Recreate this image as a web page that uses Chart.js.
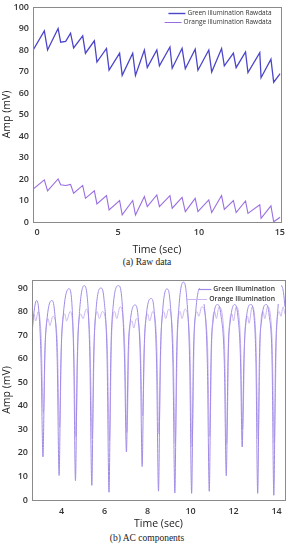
<!DOCTYPE html>
<html>
<head>
<meta charset="utf-8">
<script src="https://cdn.jsdelivr.net/npm/chart.js@4.4.0/dist/chart.umd.min.js"></script>
<style>
  body { margin: 0; width: 290px; height: 550px; background: #fff; position: relative; overflow: hidden; }
  canvas { position: absolute; left: 0; }
  #rawChart { top: 0; }
  #acChart { top: 276px; }
  .cap { position: absolute; left: 2px; width: 290px; text-align: center; font: 9.5px "Liberation Serif", serif; color: #222; }
</style>
</head>
<body>
<canvas id="rawChart" width="290" height="256"></canvas>
<div class="cap" style="top:257px">(a) Raw data</div>
<canvas id="acChart" width="290" height="254"></canvas>
<div class="cap" style="top:533px">(b) AC components</div>
<script>
// (a) raw data - peaks / troughs
const rawTime = [-0.24, 0.45, 0.65, 1.30, 1.46, 1.77, 2.07, 2.26, 2.82, 2.99, 3.54, 3.70, 4.29, 4.45, 5.10, 5.26, 5.91, 6.08, 6.63, 6.81,
  7.40, 7.56, 8.21, 8.35, 8.96, 9.16, 9.77, 9.94, 10.61, 10.79, 11.40, 11.57, 12.13, 12.30, 12.88, 13.03, 13.76, 13.84, 14.45, 14.62, 15.02];
const rawGreen = [80, 88.9, 80, 90, 83.6, 84, 87.8, 81, 86.6, 78.5, 84.3, 74.4, 80.7, 70.7, 78.5, 68.2, 78.5, 68.2, 80, 71.8,
  80, 72.6, 81.4, 71.5, 80.8, 71.3, 80.4, 70.6, 80, 69.8, 80.7, 72.6, 78.5, 71.8, 79.1, 69.5, 78.8, 67.1, 75.7, 65, 69];
const rawOrange = [15.3, 19.6, 14.5, 20, 17.3, 17, 17.5, 13.4, 17, 11, 14.5, 8.4, 12.3, 5.6, 10, 3.3, 10, 3.3, 11.8, 7.2,
  12.6, 7.2, 12.3, 6.4, 11.4, 4.8, 11, 4.8, 10.3, 4.4, 12.3, 5.9, 10, 4.4, 9.8, 4, 8, 1.7, 7.5, 0.1, 2.2];
const rawXTicks = [0, 5, 10, 15];
const rawYTicks = [0, 10, 20, 30, 40, 50, 60, 70, 80, 90, 100];

// (b) AC components
const acGreenTime = [2.63, 2.70, 2.84, 2.95, 3.05, 3.14, 3.22, 3.32, 3.55, 3.68, 3.80, 3.89, 3.97, 4.08, 4.35, 4.48, 4.57, 4.65,
  4.73, 4.84, 5.05, 5.20, 5.32, 5.41, 5.49, 5.60, 5.83, 5.98, 6.12, 6.21, 6.29, 6.40, 6.65, 6.80, 6.93, 7.02,
  7.10, 7.20, 7.42, 7.56, 7.67, 7.75, 7.83, 7.94, 8.17, 8.31, 8.42, 8.51, 8.59, 8.70, 8.90, 9.05, 9.18, 9.27,
  9.35, 9.46, 9.66, 9.82, 9.96, 10.05, 10.13, 10.24, 10.45, 10.62, 10.78, 10.87, 10.95, 11.05, 11.25, 11.42, 11.57, 11.66,
  11.74, 11.85, 12.05, 12.20, 12.32, 12.40, 12.48, 12.58, 12.80, 12.95, 13.04, 13.12, 13.20, 13.30, 13.50, 13.66, 13.79, 13.87,
  13.95, 14.05, 14.23, 14.32, 14.39];
const acGreen = [70, 78, 84.7, 80, 60, 18.3, 60, 76, 84.7, 80, 60, 10.4, 58, 78, 89.7, 84, 60, 8.2,
  58, 80, 91, 86, 60, 6.2, 58, 80, 90, 85, 60, 3.3, 60, 82, 91, 86, 60, 20.4,
  62, 76, 82.8, 78, 58, 14.2, 60, 78, 85.5, 80, 58, 3.75, 58, 80, 89.6, 84, 58, 3,
  60, 82, 92.5, 86, 58, 2.8, 60, 80, 90, 84, 58, 3.7, 60, 76, 83, 78, 58, 10.3,
  60, 76, 83, 78, 60, 22.5, 60, 76, 83, 78, 58, 2.8, 60, 76, 83, 78, 58, 2,
  60, 80, 91, 88, 82];
const acOrangeTime = [2.63, 2.72, 2.80, 2.92, 3.05, 3.16, 3.26, 3.38, 3.46, 3.60, 3.80, 3.91, 4.02, 4.15, 4.24, 4.40, 4.56, 4.67,
  4.78, 4.90, 5.00, 5.15, 5.32, 5.43, 5.54, 5.66, 5.76, 5.90, 6.12, 6.23, 6.34, 6.47, 6.57, 6.72, 6.93, 7.04,
  7.15, 7.28, 7.36, 7.48, 7.66, 7.77, 7.88, 8.00, 8.10, 8.24, 8.42, 8.53, 8.64, 8.76, 8.84, 8.98, 9.18, 9.29,
  9.40, 9.52, 9.60, 9.74, 9.96, 10.07, 10.18, 10.30, 10.38, 10.52, 10.78, 10.89, 11.00, 11.12, 11.20, 11.32, 11.57, 11.68,
  11.79, 11.92, 12.00, 12.12, 12.32, 12.42, 12.53, 12.65, 12.72, 12.86, 13.04, 13.14, 13.25, 13.37, 13.45, 13.58, 13.79, 13.89,
  14.00, 14.12, 14.20, 14.30, 14.39];
const acOrange = [72, 79, 76, 80, 70, 37, 70, 77, 74, 78, 68, 30.8, 72, 79, 76, 80, 68, 26.7,
  72, 79, 77, 81, 68, 25.9, 72, 80, 77, 80, 68, 25, 72, 80, 77, 82, 68, 28.7,
  70, 76, 73, 77, 67, 35.7, 72, 79, 76, 80, 68, 28, 72, 80, 77, 81, 68, 24,
  72, 80, 77, 81, 68, 22.5, 72, 80, 78, 82, 68, 27, 72, 80, 77, 82, 68, 24,
  72, 79, 76, 82, 68, 30, 72, 78, 75, 82, 68, 26, 72, 80, 77, 82, 68, 24,
  72, 80, 78, 82, 79];
const acXTicks = [4, 6, 8, 10, 12, 14];
const acYTicks = [0, 10, 20, 30, 40, 50, 60, 70, 80, 90];

const zip = (xs, ys) => xs.map((x, i) => ({ x, y: ys[i] }));

// y tick labels (placed with the y scale), legend inside the plot, grey frame
function makeBoxLegend(cfg) {
  return {
    id: 'boxLegend',
    afterDatasetsDraw(chart) {
      const { ctx, chartArea: a, scales } = chart;
      ctx.save();
      if (cfg.bg) {
        ctx.fillStyle = '#fff';
        ctx.fillRect(a.right - cfg.bg[0], a.top + cfg.bg[1], cfg.bg[2], cfg.bg[3]);
      }
      ctx.font = cfg.font;
      ctx.textAlign = 'right';
      ctx.textBaseline = 'middle';
      chart.data.datasets.forEach((ds, i) => {
        const it = cfg.items[i];
        const y = a.top + it.dy;
        const xr = a.right - cfg.right;
        const w = ctx.measureText(ds.label).width;
        ctx.fillStyle = '#333';
        ctx.fillText(ds.label, xr, y);
        ctx.strokeStyle = ds.borderColor;
        ctx.lineWidth = it.lw;
        ctx.beginPath();
        ctx.moveTo(xr - w - 2 - it.len, Math.round(y) + 0.5);
        ctx.lineTo(xr - w - 2, Math.round(y) + 0.5);
        ctx.stroke();
      });
      ctx.font = '600 9px "Open Sans"';
      ctx.fillStyle = '#333';
      cfg.yTicks.forEach(v => ctx.fillText(String(v), a.left - 4, scales.y.getPixelForValue(v)));
      ctx.strokeStyle = '#8a8a8a';
      ctx.lineWidth = 1;
      ctx.strokeRect(Math.round(a.left) + 0.5, Math.round(a.top) + 0.5, Math.round(a.right - a.left), Math.round(a.bottom - a.top));
      ctx.restore();
    }
  };
}

const tickFont = { family: 'Open Sans', size: 9, weight: '600' };
const titleFont = { family: 'Open Sans', size: 10.5 };

function axes(xr, yr, xTicks, yWidth, xHeight, xPad, titlePad) {
  return {
    x: {
      type: 'linear', min: xr[0], max: xr[1],
      afterBuildTicks: s => { s.ticks = xTicks.map(v => ({ value: v })); },
      afterFit: s => { s.height = xHeight; },
      grid: { display: false, drawTicks: false },
      border: { display: false },
      ticks: { font: tickFont, color: '#333', padding: xPad, maxRotation: 0, autoSkip: false },
      title: { display: true, text: 'Time (sec)', font: titleFont, color: '#222', padding: { top: titlePad, bottom: 0 } }
    },
    y: {
      min: yr[0], max: yr[1],
      afterFit: s => { s.width = yWidth; },
      grid: { display: false, drawTicks: false },
      border: { display: false },
      ticks: { display: false },
      title: { display: true, text: 'Amp (mV)', font: titleFont, color: '#222', padding: { top: 1, bottom: 0 } }
    }
  };
}

new Chart(document.getElementById('rawChart'), {
  type: 'line',
  data: {
    datasets: [
      { label: 'Green illumination Rawdata', data: zip(rawTime, rawGreen), borderColor: '#4b45c9', borderWidth: 1.3, pointRadius: 0, tension: 0 },
      { label: 'Orange illumination Rawdata', data: zip(rawTime, rawOrange), borderColor: '#9a6ee2', borderWidth: 1.1, pointRadius: 0, tension: 0 }
    ]
  },
  options: {
    responsive: false, animation: false, devicePixelRatio: 1,
    layout: { padding: { top: 7, right: 2.6, left: 0, bottom: 0 } },
    scales: axes([-0.25, 15.05], [0, 100], rawXTicks, 33, 34, 5, 4),
    plugins: { legend: { display: false }, tooltip: { enabled: false } }
  },
  plugins: [makeBoxLegend({ font: '6.5px "Open Sans"', right: 9, yTicks: rawYTicks,
    items: [{ dy: 6, len: 17, lw: 1.4 }, { dy: 15, len: 17, lw: 1 }] })]
});

new Chart(document.getElementById('acChart'), {
  type: 'line',
  data: {
    datasets: [
      { label: 'Green Illumination', data: zip(acGreenTime, acGreen), borderColor: '#a08ae6', borderWidth: 1, pointRadius: 0, cubicInterpolationMode: 'monotone' },
      { label: 'Orange Illumination', data: zip(acOrangeTime, acOrange), borderColor: '#ccb6f2', borderWidth: 1, pointRadius: 0, cubicInterpolationMode: 'monotone' }
    ]
  },
  options: {
    responsive: false, animation: false, devicePixelRatio: 1,
    layout: { padding: { top: 4, right: 5, left: 0, bottom: 0 } },
    scales: axes([2.63, 14.39], [0, 93.4], acXTicks, 32, 30, 6, 0),
    plugins: { legend: { display: false }, tooltip: { enabled: false } }
  },
  plugins: [makeBoxLegend({ font: '600 6.8px "Open Sans"', right: 10, bg: [85, 3, 81, 21], yTicks: acYTicks,
    items: [{ dy: 9, len: 13, lw: 1.2 }, { dy: 19, len: 21, lw: 1 }] })]
});
</script>
</body>
</html>
